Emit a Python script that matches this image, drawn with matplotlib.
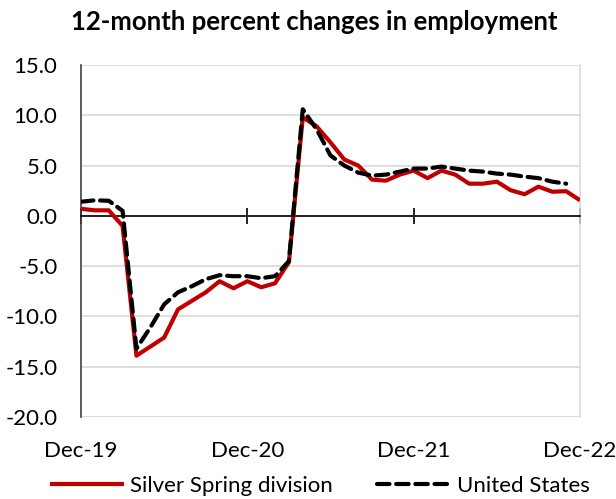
"""12-month percent changes in employment: Silver Spring division vs United States."""

import matplotlib
matplotlib.use("Agg")
import matplotlib.pyplot as plt
import numpy as np

plt.rcParams["font.family"] = ["Lato", "DejaVu Sans"]

# Monthly, Dec-2019 .. Dec-2022
months = ["Dec-19", "Jan-20", "Feb-20", "Mar-20", "Apr-20", "May-20", "Jun-20",
          "Jul-20", "Aug-20", "Sep-20", "Oct-20", "Nov-20", "Dec-20", "Jan-21",
          "Feb-21", "Mar-21", "Apr-21", "May-21", "Jun-21", "Jul-21", "Aug-21",
          "Sep-21", "Oct-21", "Nov-21", "Dec-21", "Jan-22", "Feb-22", "Mar-22",
          "Apr-22", "May-22", "Jun-22", "Jul-22", "Aug-22", "Sep-22", "Oct-22",
          "Nov-22", "Dec-22"]

silver_spring = [0.7, 0.55, 0.55, -1.0, -13.9, -13.0, -12.1, -9.3, -8.45, -7.6,
                 -6.5, -7.2, -6.5, -7.1, -6.7, -4.6, 9.8, 8.9, 7.3, 5.6, 5.0,
                 3.6, 3.5, 4.1, 4.5, 3.75, 4.5, 4.1, 3.2, 3.2, 3.4, 2.55, 2.15,
                 2.9, 2.4, 2.45, 1.55]

united_states = [1.4, 1.55, 1.5, 0.5, -13.2, -11.1, -8.8, -7.6, -7.0, -6.3,
                 -5.9, -6.0, -6.0, -6.2, -6.0, -4.5, 10.6, 8.6, 6.0, 5.0, 4.3,
                 4.0, 4.1, 4.4, 4.7, 4.7, 4.9, 4.7, 4.5, 4.4, 4.2, 4.1, 3.9,
                 3.75, 3.4, 3.2]

tick_labels = ["Dec-19", "Dec-20", "Dec-21", "Dec-22"]
tick_pos = [months.index(m) for m in tick_labels]

fig = plt.figure(figsize=(6.16, 4.99), dpi=100)
ax = fig.add_axes([81 / 616, 1 - 417 / 499, (580 - 81) / 616, (417 - 65) / 499])

x_ss = np.arange(len(silver_spring))
x_us = np.arange(len(united_states))
ax.plot(x_ss, silver_spring, color="#C00000", linewidth=3.0,
        label="Silver Spring division", solid_capstyle="butt", zorder=3)
ax.plot(x_us, united_states, color="black", linewidth=3.0,
        linestyle=(0, (3, 1.6)), dash_capstyle="round",
        label="United States", zorder=4)

ax.set_xlim(0, len(months) - 1)
ax.set_ylim(-20, 15)
yt = np.arange(-20, 15.1, 5)
ax.set_yticks(yt)
ax.set_yticklabels([f"{v:.1f}" for v in yt])
ax.tick_params(axis="y", length=0, labelsize=16, pad=17)
ax.grid(True, axis="y", color="#D9D9D9", linewidth=1.2)
ax.set_axisbelow(True)

# zero axis with crossing ticks, labels placed at bottom
ax.spines["bottom"].set_position(("data", 0))
ax.spines["bottom"].set_color("black")
ax.spines["bottom"].set_linewidth(1.2)
ax.set_xticks(tick_pos)
ax.set_xticklabels([])
ax.tick_params(axis="x", direction="inout", length=12, width=1.2, color="black")

sec = ax.secondary_xaxis("bottom")
sec.set_xticks(tick_pos)
sec.set_xticklabels(tick_labels)
sec.tick_params(length=0, labelsize=16, pad=17)
sec.spines["bottom"].set_visible(False)

ax.spines["left"].set_color("#404040")
ax.spines["left"].set_linewidth(1.2)
ax.spines["right"].set_color("#D9D9D9")
ax.spines["right"].set_linewidth(1.2)
ax.spines["top"].set_visible(False)
# gray frame bottom
ax.axhline(-20, color="#D9D9D9", linewidth=2.0, zorder=1)

fig.text(0.51, 1 - 22 / 499, "12-month percent changes in employment",
         ha="center", va="center", fontsize=18.5, fontweight="bold")

fig.legend(loc="center", bbox_to_anchor=(0.52, 1 - 486 / 499), ncol=2,
           frameon=False, fontsize=16, handlelength=3.3, handletextpad=0.3,
           columnspacing=2.0)

fig.savefig("out.png", dpi=100)
